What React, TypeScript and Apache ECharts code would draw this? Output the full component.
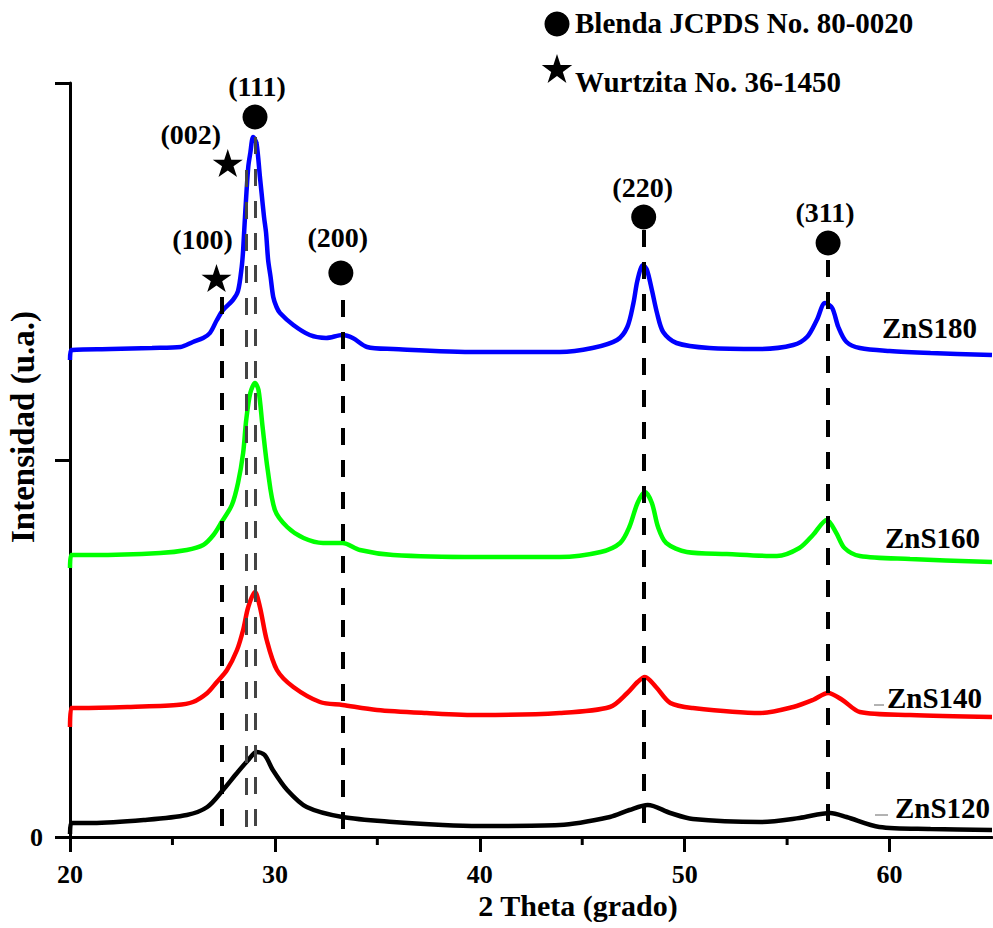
import React, { useEffect, useRef } from 'react';
import * as echarts from 'echarts';

// 2θ (grado) vs intensity (arbitrary units, 0 at the x axis)
const zns180: number[][] = [
  [20.0, 477], [20.06, 487], [22, 488], [24, 489], [25.4, 490], [26.0, 495], [26.5, 499], [26.83, 504],
  [27.17, 517], [27.47, 527], [27.95, 537], [28.2, 546], [28.38, 570], [28.45, 587], [28.56, 627],
  [28.7, 670], [28.8, 684], [28.94, 700], [29.1, 694], [29.27, 660], [29.35, 644], [29.47, 620],
  [29.57, 604], [29.67, 577], [29.79, 560], [29.92, 540], [30.08, 530], [30.25, 524], [30.9, 512],
  [31.7, 502], [32.5, 499], [33.3, 502], [33.8, 499], [34.5, 490], [35.77, 488], [39.87, 485],
  [43.9, 485], [45.5, 489], [46.7, 497], [47.2, 510], [47.5, 534], [47.7, 557], [47.97, 572],
  [48.16, 567], [48.4, 547], [48.65, 524], [48.95, 505], [49.6, 494], [51.2, 489],
  [53.7, 488], [55.3, 492], [55.97, 500], [56.45, 517], [56.85, 534], [57.2, 529],
  [57.5, 510], [57.9, 495], [58.55, 489], [60, 486], [62, 484], [65, 482],
];
const zns160: number[][] = [
  [20.0, 269], [20.06, 282], [21.1, 282], [24.4, 284], [25.7, 287], [26.5, 292], [27.0, 302],
  [27.4, 315], [27.9, 332], [28.2, 354], [28.45, 384], [28.6, 417], [28.8, 444],
  [29.03, 454], [29.2, 447], [29.4, 410], [29.65, 367], [30.0, 327], [30.6, 310],
  [31.4, 299], [32.35, 294], [33.3, 294], [34.15, 287], [35.77, 282], [39.86, 280],
  [43.9, 280], [45.9, 285], [46.85, 294], [47.3, 310], [47.7, 334], [48.06, 345],
  [48.4, 334], [48.7, 310], [49.1, 294], [50.1, 285], [52.06, 283], [54.5, 281],
  [55.6, 289], [56.26, 302], [56.94, 317], [57.4, 304], [57.8, 289], [58.55, 281],
  [61, 278], [65, 275],
];
const zns140: number[][] = [
  [20.0, 110], [20.06, 129], [20.5, 129], [22.8, 130], [25.2, 132], [26.0, 135], [26.7, 144],
  [27.17, 155], [27.66, 167], [28.15, 187], [28.45, 207], [28.7, 230], [29.03, 245],
  [29.27, 230], [29.6, 197], [30.1, 167], [30.9, 150], [32.2, 135], [33.3, 132],
  [34.98, 127], [37.4, 124], [40.0, 122], [43.9, 124], [46.35, 130], [47.2, 144],
  [47.7, 155], [48.06, 160], [48.6, 150], [49.3, 134], [50.4, 129], [53.7, 124],
  [55.3, 130], [56.26, 137], [57.0, 144], [57.7, 137], [58.55, 125], [61, 122], [65, 120],
];
const zns120: number[][] = [
  [20.0, 3], [20.06, 14], [21.1, 14], [23.6, 17], [25.7, 22], [26.7, 30], [27.47, 47],
  [28.15, 64], [28.7, 77], [29.1, 85], [29.5, 82], [29.9, 67], [30.6, 47], [31.55, 30],
  [33.3, 20], [35.77, 15], [38.2, 12], [40.0, 11], [43.9, 12], [46.35, 20], [47.3, 27],
  [48.2, 32], [49.3, 24], [50.4, 18], [53.7, 15], [55.6, 19], [57.1, 24], [57.9, 20],
  [59.5, 10], [62, 8], [65, 7],
];

const seriesNames = ['ZnS180', 'ZnS160', 'ZnS140', 'ZnS120'];

// reference peaks
const blendaName = 'Blenda JCPDS No. 80-0020';
const blendaPeaks = ['(111)', '(200)', '(220)', '(311)'];
const blendaX = [29.03, 33.22, 48.0, 57.0];
const blendaY = [720, 564, 620, 594];
const wurtzName = 'Wurtzita No. 36-1450';
const wurtzPeaks = ['(002)', '(100)'];
const wurtzX = [27.7, 27.15];
const wurtzY = [674, 559];

// vertical dashed reference lines
const refLineX = [27.42, 28.62, 29.03, 33.3, 48.0, 57.0];
const refLineTop = [540, 667, 700, 537, 607, 577];

const minorTickX = [25, 35, 45, 55];

const xTitle = '2 Theta (grado)';
const yTitle = 'Intensidad (u.a.)';

const FONT = "'Liberation Serif', 'Times New Roman', serif";
const STAR =
  'path://M50,0 L61.23,34.55 L97.55,34.55 L68.17,55.9 L79.39,90.45 L50,69.1 L20.61,90.45 L31.83,55.9 L2.45,34.55 L38.77,34.55 Z';

function starPoints(cx: number, cy: number, r: number): number[][] {
  const pts: number[][] = [];
  for (let i = 0; i < 10; i++) {
    const a = -Math.PI / 2 + (i * Math.PI) / 5;
    const rr = i % 2 === 0 ? r : r * 0.382;
    pts.push([cx + rr * Math.cos(a), cy + rr * Math.sin(a)]);
  }
  return pts;
}

export default function App() {
  const ref = useRef<HTMLDivElement>(null);
  useEffect(() => {
    if (!ref.current) return;
    const chart = echarts.init(ref.current, undefined, { renderer: 'svg' });
    const colors = ['#0000ff', '#00ff00', '#ff0000', '#000000'];
    const datas = [zns180, zns160, zns140, zns120];

    const blendaOffsets = [[2, -31], [-3, -36], [-1, -30], [-3, -31]];
    const wurtzOffsets = [[-37, -29], [-14, -39]];
    const greyLine = [false, true, true, false, false, false];

    const lineSeries = datas.map((d, i) => ({
      name: seriesNames[i],
      type: 'line',
      data: d,
      showSymbol: false,
      smooth: 0.3,
      lineStyle: { color: colors[i], width: 4.5 },
      z: 2,
    }));

    const labelStyle = {
      show: true,
      position: 'inside',
      formatter: (p: any) => p.name,
      fontFamily: FONT,
      fontSize: 28,
      fontWeight: 'bold',
      color: '#000',
      opacity: 1,
    };

    const textStyle = { fontFamily: FONT, fontWeight: 'bold', fontSize: 29, fill: '#000', verticalAlign: 'middle' };

    const option: any = {
      animation: false,
      backgroundColor: '#ffffff',
      grid: { left: 70, right: 1, top: 83, bottom: 91, containLabel: false, outerBoundsMode: 'none' },
      xAxis: {
        type: 'value',
        min: 20,
        max: 65,
        interval: 10,
        axisLine: { show: true, lineStyle: { color: '#000', width: 3 } },
        axisTick: { show: true, length: 15, lineStyle: { color: '#000', width: 3 } },
        axisLabel: {
          fontFamily: FONT,
          fontWeight: 'bold',
          fontSize: 26,
          color: '#000',
          margin: 24,
          showMaxLabel: false,
        },
        splitLine: { show: false },
      },
      yAxis: {
        type: 'value',
        min: 0,
        max: 754,
        interval: 377,
        axisLine: { show: true, lineStyle: { color: '#000', width: 3 } },
        axisTick: { show: true, length: 15, lineStyle: { color: '#000', width: 3 } },
        axisLabel: {
          fontFamily: FONT,
          fontWeight: 'bold',
          fontSize: 26,
          color: '#000',
          margin: 27,
          formatter: (v: number) => (v === 0 ? '0' : ''),
        },
        splitLine: { show: false },
      },
      series: [
        ...lineSeries,
        {
          type: 'line',
          data: [],
          z: 5,
          markLine: {
            silent: true,
            symbol: ['none', 'none'],
            label: { show: false },
            animation: false,
            data: refLineX.map((x, i) => [
              {
                coord: [x, refLineTop[i]],
                lineStyle: {
                  color: greyLine[i] ? '#444444' : '#000000',
                  width: greyLine[i] ? 3 : 4,
                  type: [17, 15],
                  opacity: 1,
                },
              },
              { coord: [x, 0] },
            ]),
          },
        },
        {
          name: blendaName,
          type: 'scatter',
          symbol: 'circle',
          symbolSize: 25,
          itemStyle: { color: '#000', opacity: 1 },
          z: 6,
          data: blendaX.map((x, i) => ({
            name: blendaPeaks[i],
            value: [x, blendaY[i]],
            label: { ...labelStyle, offset: blendaOffsets[i] },
          })),
        },
        {
          name: wurtzName,
          type: 'scatter',
          symbol: STAR,
          symbolSize: [30, 28],
          itemStyle: { color: '#000', opacity: 1 },
          z: 6,
          data: wurtzX.map((x, i) => ({
            name: wurtzPeaks[i],
            value: [x, wurtzY[i]],
            label: { ...labelStyle, offset: wurtzOffsets[i] },
          })),
        },
        {
          type: 'custom',
          z: 4,
          data: minorTickX.map((x) => [x]),
          encode: { x: 0 },
          renderItem: (params: any, api: any) => {
            const p = api.coord([api.value(0), 0]);
            return {
              type: 'line',
              shape: { x1: p[0], y1: p[1], x2: p[0], y2: p[1] + 8 },
              style: { stroke: '#000', lineWidth: 3 },
            };
          },
        },
      ],
      graphic: [
        {
          type: 'text', x: 23, y: 427, rotation: Math.PI / 2,
          style: { text: yTitle, fontFamily: FONT, fontWeight: 'bold', fontSize: 33, fill: '#000', align: 'center', verticalAlign: 'middle' },
        },
        {
          type: 'text', x: 578, y: 905,
          style: { text: xTitle, fontFamily: FONT, fontWeight: 'bold', fontSize: 30, fill: '#000', align: 'center', verticalAlign: 'middle' },
        },
        { type: 'circle', shape: { cx: 557, cy: 24, r: 12.5 }, style: { fill: '#000' } },
        { type: 'text', x: 575, y: 23, style: { ...textStyle, text: blendaName } },
        { type: 'polygon', shape: { points: starPoints(557, 70, 16) }, style: { fill: '#000' } },
        { type: 'text', x: 575, y: 82, style: { ...textStyle, text: wurtzName } },
        { type: 'text', x: 882, y: 328, style: { ...textStyle, text: seriesNames[0] } },
        { type: 'text', x: 885, y: 538, style: { ...textStyle, text: seriesNames[1] } },
        { type: 'text', x: 887, y: 698, style: { ...textStyle, text: seriesNames[2] } },
        { type: 'text', x: 895, y: 808, style: { ...textStyle, text: seriesNames[3] } },
        { type: 'line', shape: { x1: 874, y1: 705, x2: 884, y2: 705 }, style: { stroke: '#666', lineWidth: 1 } },
        { type: 'line', shape: { x1: 875, y1: 815, x2: 888, y2: 815 }, style: { stroke: '#666', lineWidth: 1 } },
      ],
    };
    chart.setOption(option);
    return () => chart.dispose();
  }, []);
  return <div ref={ref} style={{ position: 'fixed', left: 0, top: 0, width: 993, height: 928 }} />;
}
